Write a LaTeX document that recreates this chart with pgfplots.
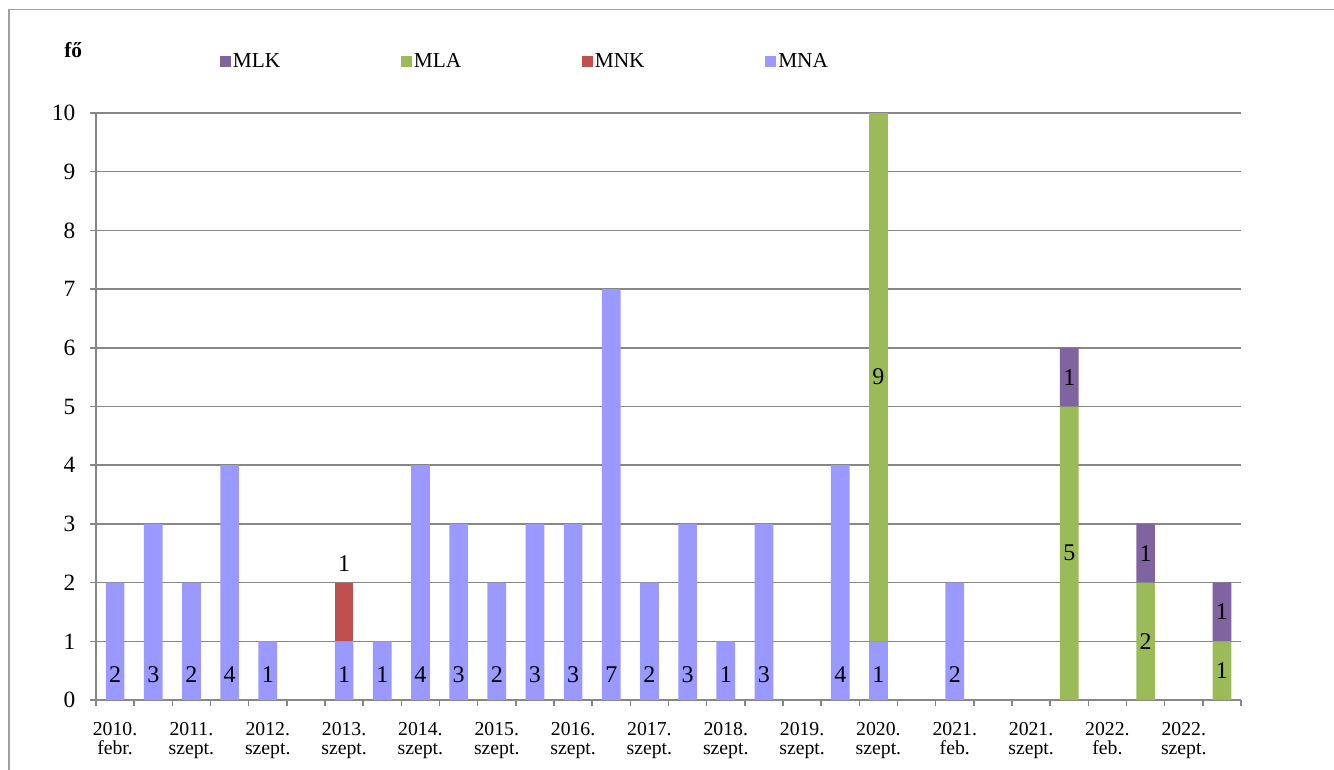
\documentclass[border=0pt]{standalone}
\usepackage{pgfplots}
\pgfplotsset{compat=1.18}
\usepackage{pgfplotstable}
\usepackage{fontspec}
\setmainfont{Liberation Serif}

\definecolor{cMNA}{HTML}{9999FF}
\definecolor{cMNK}{HTML}{C0504D}
\definecolor{cMLA}{HTML}{9BBB59}
\definecolor{cMLK}{HTML}{8064A2}
\definecolor{axgray}{HTML}{868686}
\definecolor{framegray}{HTML}{A0A0A0}

% one row per period, stacked from MNA upwards
\pgfplotstableread{
x  MNA MNK MLA MLK
0  2 0 0 0
1  3 0 0 0
2  2 0 0 0
3  4 0 0 0
4  1 0 0 0
5  0 0 0 0
6  1 1 0 0
7  1 0 0 0
8  4 0 0 0
9  3 0 0 0
10 2 0 0 0
11 3 0 0 0
12 3 0 0 0
13 7 0 0 0
14 2 0 0 0
15 3 0 0 0
16 1 0 0 0
17 3 0 0 0
18 0 0 0 0
19 4 0 0 0
20 1 0 9 0
21 0 0 0 0
22 2 0 0 0
23 0 0 0 0
24 0 0 0 0
25 0 0 5 1
26 0 0 0 0
27 0 0 2 1
28 0 0 0 0
29 0 0 1 1
}\fodata

\newcommand\nzlabel{\pgfmathfloatifflags{\pgfplotspointmeta}{0}{}{\pgfmathprintnumber{\pgfplotspointmeta}}}

\begin{document}
\begin{tikzpicture}
\useasboundingbox (-72pt,-51.75pt) rectangle (928.5pt,525pt);
\draw[framegray, line width=1.1pt] (-65.25pt,-60pt) -- (-65.25pt,518pt) -- (935pt,518pt);
\begin{axis}[
  at={(0,0)}, anchor=south west,
  width=858.75pt, height=440.25pt, scale only axis,
  ybar stacked, bar width=14pt,
  xmin=-0.5, xmax=29.5, ymin=0, ymax=10,
  axis x line*=bottom, axis y line*=left,
  axis line style={draw=axgray, line width=1.1pt},
  ymajorgrids, grid style={draw=axgray, line width=1.1pt},
  tick align=outside, major tick length=4.5pt,
  tick style={draw=axgray, line width=1.1pt},
  ytick={0,...,10},
  yticklabel style={font=\fontsize{17.5}{20}\selectfont, xshift=-7.5pt},
  /pgf/number format/assume math mode=true,
  xtick={-0.5,0.5,...,29.5}, xticklabels={},
  extra x ticks={0,2,...,28},
  extra x tick labels={{2010.\\[-1pt]febr.},{2011.\\[-1pt]szept.},{2012.\\[-1pt]szept.},{2013.\\[-1pt]szept.},{2014.\\[-1pt]szept.},{2015.\\[-1pt]szept.},{2016.\\[-1pt]szept.},{2017.\\[-1pt]szept.},{2018.\\[-1pt]szept.},{2019.\\[-1pt]szept.},{2020.\\[-1pt]szept.},{2021.\\[-1pt]feb.},{2021.\\[-1pt]szept.},{2022.\\[-1pt]feb.},{2022.\\[-1pt]szept.}},
  extra x tick style={major tick length=0pt, xticklabel style={align=center, font=\fontsize{14.8}{15.5}\selectfont, yshift=-13pt}},
  visualization depends on={rawy \as \rawy},
  nodes near coords style={font=\fontsize{18}{20}\selectfont, text=black},
  legend columns=4, reverse legend,
  legend style={draw=none, fill=none, at={(axis description cs:0.108,1.087)}, anchor=west,
    font=\fontsize{16}{18}\selectfont, inner sep=0pt, nodes={inner sep=1.5pt},
    /tikz/every even column/.append style={column sep=89pt}},
  legend image code/.code={\fill[#1] (0pt,-4.1pt) rectangle (8.2pt,4.1pt);},
]
% labels sit at the middle of each segment; MNA ones are moved to the base
\addplot[fill=cMNA, draw=none, nodes near coords=\nzlabel,
  every node near coord/.append style={anchor=center, yshift={(0.43-0.5*\rawy)*44.025pt}}]
  table[x=x, y=MNA] {\fodata};
\addplot[fill=cMNK, draw=none, nodes near coords=\nzlabel,
  every node near coord/.append style={anchor=south, yshift={0.5*\rawy*44.025pt+5pt}}]
  table[x=x, y=MNK] {\fodata};
\addplot[fill=cMLA, draw=none, nodes near coords=\nzlabel,
  every node near coord/.append style={anchor=center}]
  table[x=x, y=MLA] {\fodata};
\addplot[fill=cMLK, draw=none, nodes near coords=\nzlabel,
  every node near coord/.append style={anchor=center}]
  table[x=x, y=MLK] {\fodata};
\legend{MNA,MNK,MLA,MLK}
\end{axis}
\node[anchor=base west, inner sep=0pt, font=\fontsize{16}{18}\selectfont\bfseries] at (-24pt,482pt) {fő};
\end{tikzpicture}
\end{document}
